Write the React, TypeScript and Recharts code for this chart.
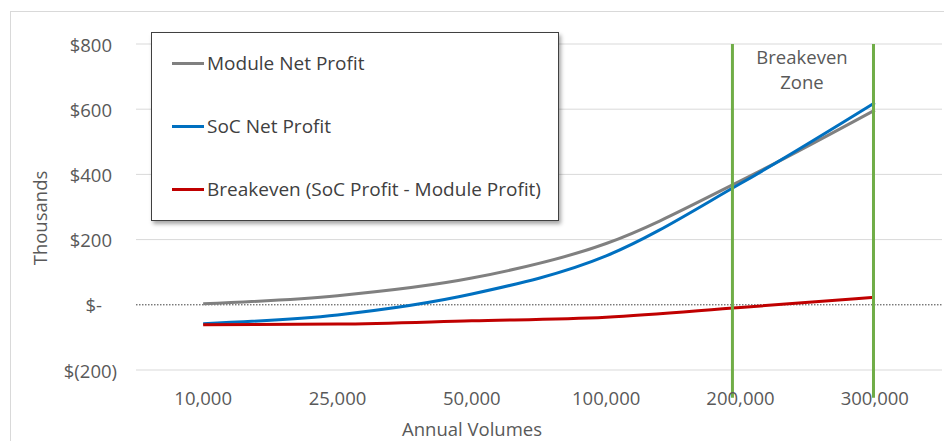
import React from "react";
import {
  LineChart, Line, XAxis, YAxis, CartesianGrid, ReferenceLine, Legend,
} from "recharts";

const volumes = ["10,000", "25,000", "50,000", "100,000", "200,000", "300,000"];
const moduleNetProfit = [3, 28, 82, 188, 380, 597];
const socNetProfit = [-58, -31, 33, 150, 372, 620];
const breakevenProfit = [-61, -59, -49, -38, -8, 23];
const yTicks = [-200, 0, 200, 400, 600, 800];
// edges of the breakeven zone, on the category index scale
const zoneEdges = [3.94, 4.99];
const legendOrder = ["module", "soc", "breakeven"];

const data = volumes.map((volume, i) => ({
  idx: i,
  volume,
  module: moduleNetProfit[i],
  soc: socNetProfit[i],
  breakeven: breakevenProfit[i],
}));

const FONT = "'Open Sans', 'Noto Sans', sans-serif";
const TEXT = "#595959";
const AXIS_FS = 18.5;

function money(v: number) {
  if (v === 0) return "$-";
  if (v < 0) return `$(${Math.abs(v)})`;
  return `$${v}`;
}

function YTick({ x, y, payload }: any) {
  const v = payload.value as number;
  // accounting-style alignment like the spreadsheet
  const shift = v === 0 ? -34 : v < 0 ? -19 : -24;
  return (
    <text x={x + shift} y={y} textAnchor="end" dominantBaseline="central"
      fill={TEXT} fontSize={AXIS_FS} fontFamily={FONT}>
      {money(v)}
    </text>
  );
}

function LegendBox({ payload }: any) {
  const items = [...(payload || [])].sort(
    (a: any, b: any) => legendOrder.indexOf(a.dataKey) - legendOrder.indexOf(b.dataKey)
  );
  return (
    <div style={{
      width: 408, height: 189, border: "1.5px solid #404040", background: "#fff",
      boxShadow: "2px 3px 4px rgba(0,0,0,0.35)", boxSizing: "border-box",
      fontFamily: FONT, textAlign: "left",
    }}>
      {items.map((p: any, i: number) => (
        <div key={p.value} style={{ position: "absolute", left: 21, top: 31 + i * 63 - 12, height: 24, display: "flex", alignItems: "center" }}>
          <span style={{ width: 32, height: 3, background: p.color, display: "inline-block" }} />
          <span style={{ fontSize: 19, color: "#404040", marginLeft: 3, whiteSpace: "nowrap" }}>{p.value}</span>
        </div>
      ))}
    </div>
  );
}

export default function App() {
  return (
    <div style={{ position: "absolute", left: 0, top: 0, width: 944, height: 441, overflow: "hidden", background: "#fff", fontFamily: FONT }}>
      <div style={{ position: "absolute", left: 10, top: 11, width: 960, height: 460, borderLeft: "1.5px solid #d9d9d9", borderTop: "1.5px solid #d9d9d9" }} />
      <LineChart width={944} height={441} data={data}
        margin={{ top: 44, right: 2, bottom: 41, left: 0 }}
        style={{ position: "absolute", left: 0, top: 0 }}>
        <CartesianGrid vertical={false} stroke="#d9d9d9" horizontalValues={[-200, 200, 400, 600, 800]} />
        <XAxis dataKey="idx" type="number" domain={[-0.5, 5.5]} ticks={[0, 1, 2, 3, 4, 5]}
          tickFormatter={(i: number) => volumes[i]} axisLine={false} tickLine={false} height={30}
          tickSize={0} tickMargin={22} tick={{ fill: TEXT, fontSize: AXIS_FS, fontFamily: FONT }} />
        <YAxis width={136} domain={[-200, 800]} ticks={yTicks} axisLine={false} tickLine={false}
          tickSize={0} tickMargin={0} tick={<YTick />} />
        <ReferenceLine y={0} stroke="#404040" strokeDasharray="1.5 1.5" strokeWidth={1} />
        <Legend layout="vertical" align="center" verticalAlign="middle" content={<LegendBox />}
          wrapperStyle={{ left: 151, top: 32, width: 408, height: 189 }} />
        <Line type="monotone" dataKey="module" name="Module Net Profit" stroke="#808080"
          strokeWidth={3} dot={false} isAnimationActive={false} />
        <Line type="monotone" dataKey="soc" name="SoC Net Profit" stroke="#0070c0"
          strokeWidth={3} dot={false} isAnimationActive={false} />
        <Line type="monotone" dataKey="breakeven" name="Breakeven (SoC Profit - Module Profit)" stroke="#c00000"
          strokeWidth={3} dot={false} isAnimationActive={false} />
        {zoneEdges.map((x) => (
          <ReferenceLine key={x} segment={[{ x, y: 800 }, { x, y: -285 }]} ifOverflow="visible"
            stroke="#70ad47" strokeWidth={3} />
        ))}
      </LineChart>
      <div style={{ position: "absolute", left: 742, top: 44, width: 120, textAlign: "center", fontSize: AXIS_FS, lineHeight: "25px", color: TEXT }}>
        Breakeven<br />Zone
      </div>
      <div style={{ position: "absolute", left: 372, top: 416, width: 200, textAlign: "center", fontSize: AXIS_FS, color: TEXT }}>
        Annual Volumes
      </div>
      <div style={{ position: "absolute", left: 40, top: 218, width: 120, marginLeft: -60, marginTop: -12, lineHeight: "24px", textAlign: "center", fontSize: AXIS_FS, color: TEXT, transform: "rotate(-90deg)" }}>
        Thousands
      </div>
    </div>
  );
}
